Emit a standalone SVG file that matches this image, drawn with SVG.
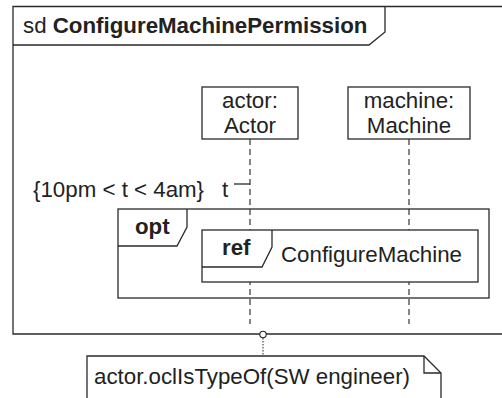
<svg xmlns="http://www.w3.org/2000/svg" width="502" height="398" viewBox="0 0 502 398">
<style>
.f{fill:none;stroke:#2a2a2a;stroke-width:1.3}
.bx{fill:#fff;stroke:#2a2a2a;stroke-width:1.3}
.t{font-family:"Liberation Sans",Arial,sans-serif;font-size:22.3px;fill:#222}
.b{font-weight:bold}
.ll{fill:none;stroke:#444;stroke-width:1.3;stroke-dasharray:6,4}
</style>
<rect width="502" height="398" fill="#fff"/>
<g id="frame">
<path class="f" d="M503,6.5 H13 V334 H503"/>
<path class="f" d="M13,45 H369 L385,32 V6.5"/>
<text class="t" x="23" y="33">sd <tspan class="b">ConfigureMachinePermission</tspan></text>
</g>
<g id="connectors">
<line class="ll" x1="250" y1="139" x2="250" y2="324"/>
<line class="ll" x1="409" y1="139" x2="409" y2="324"/>
<path class="f" d="M234,184 H250"/>
<line x1="263" y1="338" x2="263" y2="356" stroke="#222" stroke-width="1" stroke-dasharray="1.5,1.5"/>
<circle cx="263" cy="334.5" r="3.2" fill="#fff" stroke="#222" stroke-width="1.1"/>
</g>
<g id="actor">
<rect class="bx" x="202" y="87" width="96" height="52"/>
<text class="t" x="250" y="108" text-anchor="middle">actor:</text>
<text class="t" x="250" y="133" text-anchor="middle">Actor</text>
</g>
<g id="machine">
<rect class="bx" x="348" y="87" width="122" height="52"/>
<text class="t" x="409" y="108" text-anchor="middle">machine:</text>
<text class="t" x="409" y="133" text-anchor="middle">Machine</text>
</g>
<g id="constraint">
<text class="t" x="33" y="197">{10pm &lt; t &lt; 4am}</text>
<text class="t" x="222" y="197">t</text>
</g>
<g id="opt">
<rect class="f" x="118" y="209" width="371" height="89"/>
<path class="f" d="M118,246 H177 L187,227 V209"/>
<text class="t b" x="135" y="234">opt</text>
</g>
<g id="ref">
<rect class="bx" x="202" y="230" width="276" height="52"/>
<path class="f" d="M202,267 H262 L272,247 V230"/>
<text class="t b" x="222" y="255">ref</text>
<text class="t" x="281" y="262">ConfigureMachine</text>
</g>
<g id="note">
<path class="bx" d="M87,400 V356 H424 L441,373 V400"/>
<path class="f" d="M424,356 V373 H441"/>
<text class="t" x="94" y="384">actor.oclIsTypeOf(SW engineer)</text>
</g>
</svg>
